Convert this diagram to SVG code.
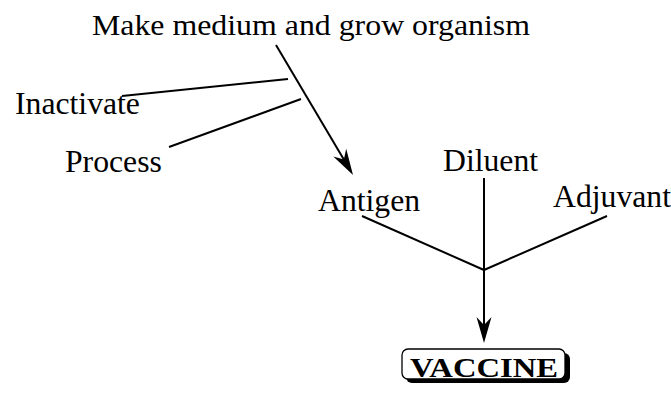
<svg xmlns="http://www.w3.org/2000/svg" width="671" height="396" viewBox="0 0 671 396">
<style>
.t{font-family:"Liberation Serif","Times New Roman",serif;font-size:31.7px;fill:#000}
.b{font-weight:bold}
.c{stroke:#000;stroke-width:2;fill:none}
</style>
<defs>
<marker id="ah" markerUnits="userSpaceOnUse" markerWidth="28" markerHeight="18" viewBox="0 0 28 18" refX="16" refY="9" orient="auto">
<path d="M27,9 L1,1.5 L9,9 L1,16.5 Z" fill="#000"/>
</marker>
</defs>
<rect width="671" height="396" fill="#fff"/>
<g id="connectors">
<line class="c" x1="276" y1="45" x2="347.4" y2="165.5" marker-end="url(#ah)"/>
<line class="c" x1="122" y1="96" x2="288" y2="79"/>
<line class="c" x1="169" y1="147" x2="301" y2="99"/>
<line class="c" x1="362" y1="216" x2="484" y2="270"/>
<line class="c" x1="607" y1="216" x2="484" y2="270"/>
<line class="c" x1="484" y1="178" x2="484" y2="332" marker-end="url(#ah)"/>
</g>
<g id="make"><text class="t" x="92" y="35" style="font-size:29px" textLength="438" lengthAdjust="spacingAndGlyphs">Make medium and grow organism</text></g>
<g id="inactivate"><text class="t" x="15" y="114">Inactivate</text></g>
<g id="process"><text class="t" x="65" y="172">Process</text></g>
<g id="antigen"><text class="t" x="318" y="211">Antigen</text></g>
<g id="diluent"><text class="t" x="443" y="171">Diluent</text></g>
<g id="adjuvant"><text class="t" x="553" y="207">Adjuvant</text></g>
<g id="vaccine">
<rect x="406" y="353" width="164" height="30" rx="6" fill="#000"/>
<rect x="402" y="349" width="163" height="30" rx="6" fill="#fff" stroke="#000" stroke-width="1.3"/>
<text class="t b" x="410" y="377" style="font-size:26.5px" textLength="148" lengthAdjust="spacingAndGlyphs">VACCINE</text>
</g>
</svg>
